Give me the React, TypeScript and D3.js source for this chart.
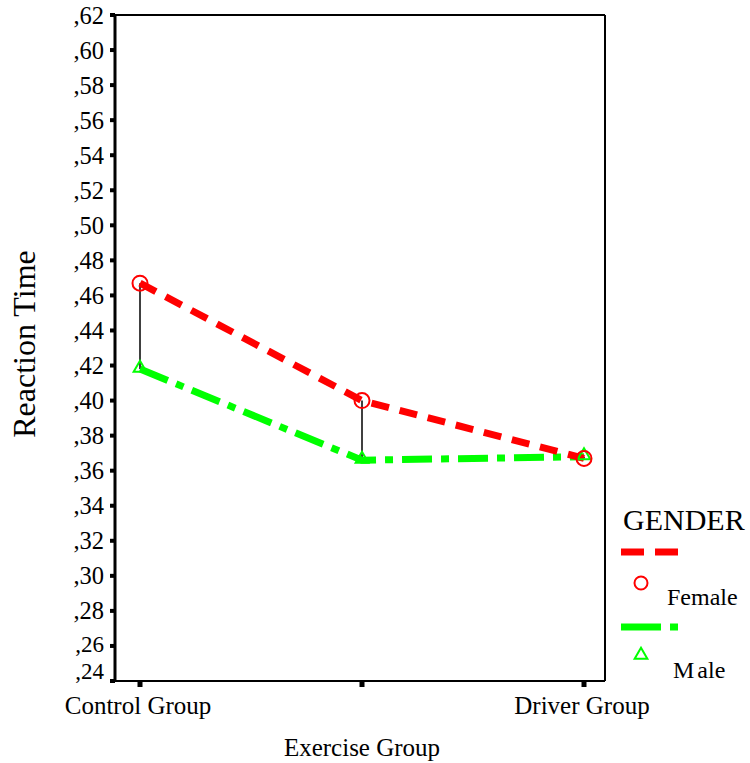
import React from "react";
import * as d3 from "d3";

const categories = ["Control Group", "Exercise Group", "Driver Group"];
const categoryLabels = ["Control Group", "", "Driver Group"];
const femaleValues = [0.467, 0.4, 0.367];
const maleValues = [0.418, 0.366, 0.368];
const yTicks = [0.24, 0.26, 0.28, 0.3, 0.32, 0.34, 0.36, 0.38, 0.4, 0.42, 0.44, 0.46, 0.48, 0.5, 0.52, 0.54, 0.56, 0.58, 0.6, 0.62];

const FONT = "'Liberation Serif', 'Times New Roman', serif";

export default function App() {
  const left = 115, right = 605, top = 15, bottom = 681;
  const x = d3.scalePoint<string>().domain(categories).range([140, 584]);
  const y = d3.scaleLinear().domain([0.24, 0.62]).range([bottom, top]);
  const fmt = (v: number) => "," + d3.format(".2f")(v).split(".")[1];

  const line = d3.line<number>()
    .x((_, i) => x(categories[i]) as number)
    .y((d) => y(d));

  const tri = d3.symbol().type(d3.symbolTriangle).size(70)();

  const labelY = (t: number) => {
    if (t === 0.24) return y(t) - 2;
    if (t === 0.26) return y(t) + 6;
    return y(t) + 8.5;
  };

  return (
    <svg width={750} height={763} style={{ position: "absolute", left: 0, top: 0, background: "#fff" }}>
      <rect x={0} y={0} width={750} height={763} fill="#fff" />
      {/* frame */}
      <line x1={left} y1={top} x2={right} y2={top} stroke="#000" strokeWidth={2} />
      <line x1={right} y1={top} x2={right} y2={bottom} stroke="#000" strokeWidth={2} />
      <line x1={left} y1={bottom} x2={right} y2={bottom} stroke="#000" strokeWidth={2} />
      <line x1={left} y1={top - 1} x2={left} y2={bottom + 1} stroke="#000" strokeWidth={3} />
      {/* y ticks */}
      {yTicks.map((t) => (
        <g key={t}>
          <rect x={left - 5} y={y(t) - 2} width={5} height={4} fill="#000" />
          <text
            x={104}
            y={labelY(t)}
            textAnchor="end"
            fontFamily={FONT}
            fontSize={t <= 0.26 ? 23 : 24.5}
            fill="#000"
          >
            {fmt(t)}
          </text>
        </g>
      ))}
      {/* x ticks */}
      {categories.map((c, i) => (
        <g key={c}>
          <rect x={(x(c) as number) - 2.5} y={bottom + 1} width={5} height={5} fill="#000" />
          <text x={(x(c) as number) - 2} y={714} textAnchor="middle" fontFamily={FONT} fontSize={25} fill="#000">
            {categoryLabels[i]}
          </text>
        </g>
      ))}
      {/* axis titles */}
      <text x={362} y={756} textAnchor="middle" fontFamily={FONT} fontSize={25} fill="#000">Exercise Group</text>
      <text
        transform={`translate(35, 344) rotate(-90)`}
        textAnchor="middle"
        fontFamily={FONT}
        fontSize={32}
        fill="#000"
      >
        Reaction Time
      </text>
      {/* drop lines */}
      {categories.map((c, i) => (
        <line key={c} x1={x(c) as number} x2={x(c) as number} y1={y(femaleValues[i])} y2={y(maleValues[i])} stroke="#000" strokeWidth={1.5} />
      ))}
      {/* series lines */}
      <path d={line(maleValues) as string} fill="none" stroke="#00ff00" strokeWidth={7} strokeDasharray="30 9 8 9" />
      <path d={line(femaleValues) as string} fill="none" stroke="#ff0000" strokeWidth={7} strokeDasharray="18 11" />
      {/* markers */}
      {categories.map((c, i) => (
        <path key={c} d={tri as string} transform={`translate(${x(c)},${y(maleValues[i]) - 1})`} fill="none" stroke="#00ff00" strokeWidth={2} />
      ))}
      {categories.map((c, i) => (
        <circle key={c} cx={x(c) as number} cy={y(femaleValues[i])} r={7.5} fill="none" stroke="#ff0000" strokeWidth={2} />
      ))}
      {/* legend */}
      <text x={623} y={530} fontFamily={FONT} fontSize={30} fill="#000">GENDER</text>
      <line x1={621} x2={678} y1={552} y2={552} stroke="#ff0000" strokeWidth={7} strokeDasharray="23 11" />
      <circle cx={641} cy={583} r={6.5} fill="none" stroke="#ff0000" strokeWidth={2} />
      <text x={667} y={605} fontFamily={FONT} fontSize={24} fill="#000">Female</text>
      <line x1={621} x2={678} y1={627} y2={627} stroke="#00ff00" strokeWidth={7} strokeDasharray="40 9 8 9" />
      <path d={tri as string} transform="translate(641,655)" fill="none" stroke="#00ff00" strokeWidth={2} />
      <text x={673} y={678} fontFamily={FONT} fontSize={24} fill="#000">
        M<tspan dx={3}>ale</tspan>
      </text>
    </svg>
  );
}
